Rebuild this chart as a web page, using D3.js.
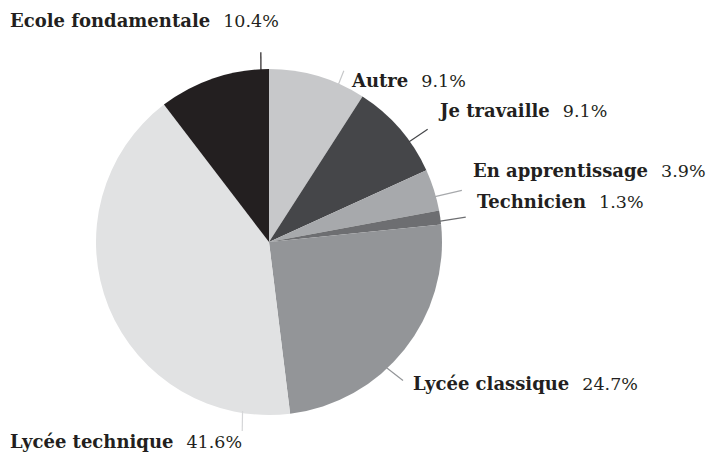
<!DOCTYPE html>
<html><head><meta charset="utf-8">
<script src="https://cdn.jsdelivr.net/npm/d3@7"></script>
<style>body{margin:0;background:#fff}svg{display:block}</style>
</head><body>
<svg id="c" width="715" height="457"></svg>
<script>
const categories = ["Autre","Je travaille","En apprentissage","Technicien","Lycée classique","Lycée technique","Ecole fondamentale"];
const values = [9.1, 9.1, 3.9, 1.3, 24.7, 41.6, 10.4];
const valueLabels = ["9.1%","9.1%","3.9%","1.3%","24.7%","41.6%","10.4%"];
const colors = ["#c7c8ca","#454649","#a7a9ac","#6d6e71","#939598","#e1e2e3","#231f20"];

const svg = d3.select("#c");
const cx = 269, cy = 242, R = 173;
const g = svg.append("g").attr("transform",`translate(${cx},${cy})`);
const pie = d3.pie().sort(null).value(d=>d);
const arcs = pie(values);
const arc = d3.arc().innerRadius(0).outerRadius(R);
g.selectAll("path").data(arcs).enter().append("path")
  .attr("d",arc).attr("fill",(d,i)=>colors[i]);

// leader line & label layout (angle in degrees on the rim, end offset, label position)
const layout = [
  {a:23.8, dx:5,  dy:-13, lx:352, ly:87},
  {a:54.4, dx:18, dy:-12, lx:440, ly:117},
  {a:74.7, dx:26, dy:-6,  lx:473, ly:177},
  {a:83.1, dx:25, dy:-4,  lx:477, ly:208},
  {a:137,  dx:16, dy:12,  lx:413, ly:390},
  {a:188.9,dx:0,  dy:18,  lx:10,  ly:448},
  {a:-2.7, dx:0,  dy:-17, lx:10,  ly:27}
];
const lineColors = ["#c7c8ca","#454649","#a7a9ac","#6d6e71","#939598","#d5d6d8","#231f20"];
layout.forEach((L,i)=>{
  const t = L.a*Math.PI/180;
  const x0 = cx + (R-2)*Math.sin(t), y0 = cy - (R-2)*Math.cos(t);
  const x1 = cx + R*Math.sin(t) + L.dx, y1 = cy - R*Math.cos(t) + L.dy;
  svg.append("line").attr("x1",x0).attr("y1",y0).attr("x2",x1).attr("y2",y1)
    .attr("stroke",lineColors[i]).attr("stroke-width",1.2);
  const txt = svg.append("text").attr("x",L.lx).attr("y",L.ly)
    .attr("font-family","DejaVu Serif").attr("font-size",18).attr("fill","#231f20");
  txt.append("tspan").attr("font-weight","bold").text(categories[i]);
  txt.append("tspan").attr("dx",13).attr("font-size",17.5).text(valueLabels[i]);
});
</script>
</body></html>
